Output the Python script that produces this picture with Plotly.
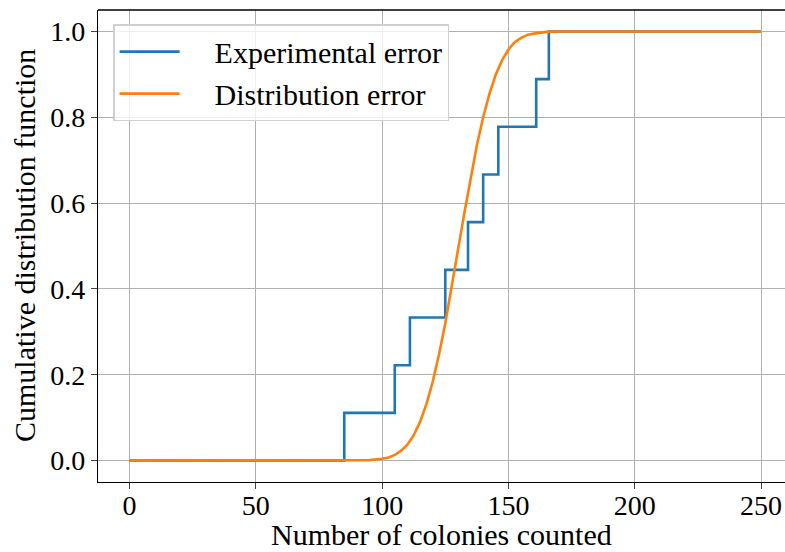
import plotly.graph_objects as go

# Experimental error: observed colony counts (ECDF jumps)
colony_counts = [85, 105, 111, 125, 134, 140, 146, 161, 166]
ecdf_levels = [1/9, 2/9, 3/9, 4/9, 5/9, 6/9, 7/9, 8/9, 1.0]

# Distribution error: CDF values
dist_x = [0, 10, 20, 30, 40, 50, 60, 70, 80, 90, 95, 100, 102.5, 105, 107.5, 110,
          112.5, 115, 117.5, 120, 122.5, 125, 127.5, 130, 132.5, 135, 137.5, 140,
          142.5, 145, 147.5, 150, 152.5, 155, 157.5, 160, 165, 170, 180, 200, 225, 250]
dist_y = [0, 0, 0, 0, 0, 0, 0, 0, 0, 0, 0.001, 0.004, 0.007, 0.013, 0.023, 0.037,
          0.059, 0.090, 0.131, 0.183, 0.247, 0.320, 0.401, 0.490, 0.575, 0.660, 0.735, 0.800,
          0.855, 0.900, 0.933, 0.958, 0.975, 0.985, 0.992, 0.995, 0.999, 1.0, 1.0, 1.0, 1.0, 1.0]

x_ticks = [0, 50, 100, 150, 200, 250]
y_ticks = [0.0, 0.2, 0.4, 0.6, 0.8, 1.0]
y_tick_labels = ["0.0", "0.2", "0.4", "0.6", "0.8", "1.0"]

x_min, x_max = 0, 250

step_x = [x_min] + colony_counts + [x_max]
step_y = [0] + ecdf_levels + [1.0]

FONT = "Liberation Serif"
PAD = "\u00a0\u00a0\u00a0\u00a0"
fig = go.Figure()
fig.add_trace(go.Scatter(x=step_x, y=step_y, mode="lines", line_shape="hv",
                         line=dict(color="#1f77b4", width=2.6), name=PAD + "Experimental error"))
fig.add_trace(go.Scatter(x=dist_x, y=dist_y, mode="lines",
                         line=dict(color="#ff7f0e", width=2.6), name=PAD + "Distribution error"))

fig.update_layout(
    width=785, height=552,
    margin=dict(l=98, r=0, t=10, b=70, autoexpand=False),
    paper_bgcolor="white", plot_bgcolor="white",
    font=dict(family=FONT, size=28, color="black"),
    showlegend=True,
    legend=dict(x=0.022, y=0.97, xanchor="left", yanchor="top",
                bgcolor="rgba(255,255,255,0.8)", bordercolor="#d0d0d0", borderwidth=1.5,
                font=dict(family=FONT, size=30, color="black"), tracegroupgap=0, itemwidth=60),
    xaxis=dict(range=[-12.5, 259.5], tickvals=x_ticks, ticks="outside", ticklen=6,
               tickwidth=1.2, showgrid=True, gridcolor="#b0b0b0", gridwidth=1.3,
               showline=True, linecolor="black", linewidth=1.3, mirror=False,
               zeroline=False, automargin=False, ticklabelstandoff=-8,
               tickfont=dict(family=FONT, size=28, color="black")),
    yaxis=dict(range=[-0.05, 1.05], tickvals=y_ticks, ticktext=y_tick_labels,
               ticks="outside", ticklen=6, tickwidth=1.2, showgrid=True,
               gridcolor="#b0b0b0", gridwidth=1.3, showline=True, linecolor="black",
               linewidth=1.3, zeroline=False, automargin=False,
               tickfont=dict(family=FONT, size=28, color="black")),
    annotations=[
        dict(text="Number of colonies counted", xref="paper", yref="paper",
             x=0.5, y=0, yshift=-52, xanchor="center", yanchor="middle", showarrow=False,
             font=dict(family=FONT, size=30, color="black")),
        dict(text="Cumulative distribution function", xref="paper", yref="paper",
             x=0, xshift=-74, y=0.5, xanchor="center", yanchor="middle", textangle=-90,
             showarrow=False, font=dict(family=FONT, size=30, color="black")),
    ],
)
# top spine
fig.add_shape(type="line", xref="paper", yref="paper", x0=0, x1=1, y0=1, y1=1,
              line=dict(color="black", width=1.3))
fig.write_html("out.html", config={"displayModeBar": False},
               post_script="document.body.style.margin='0';document.body.style.overflow='hidden';")
